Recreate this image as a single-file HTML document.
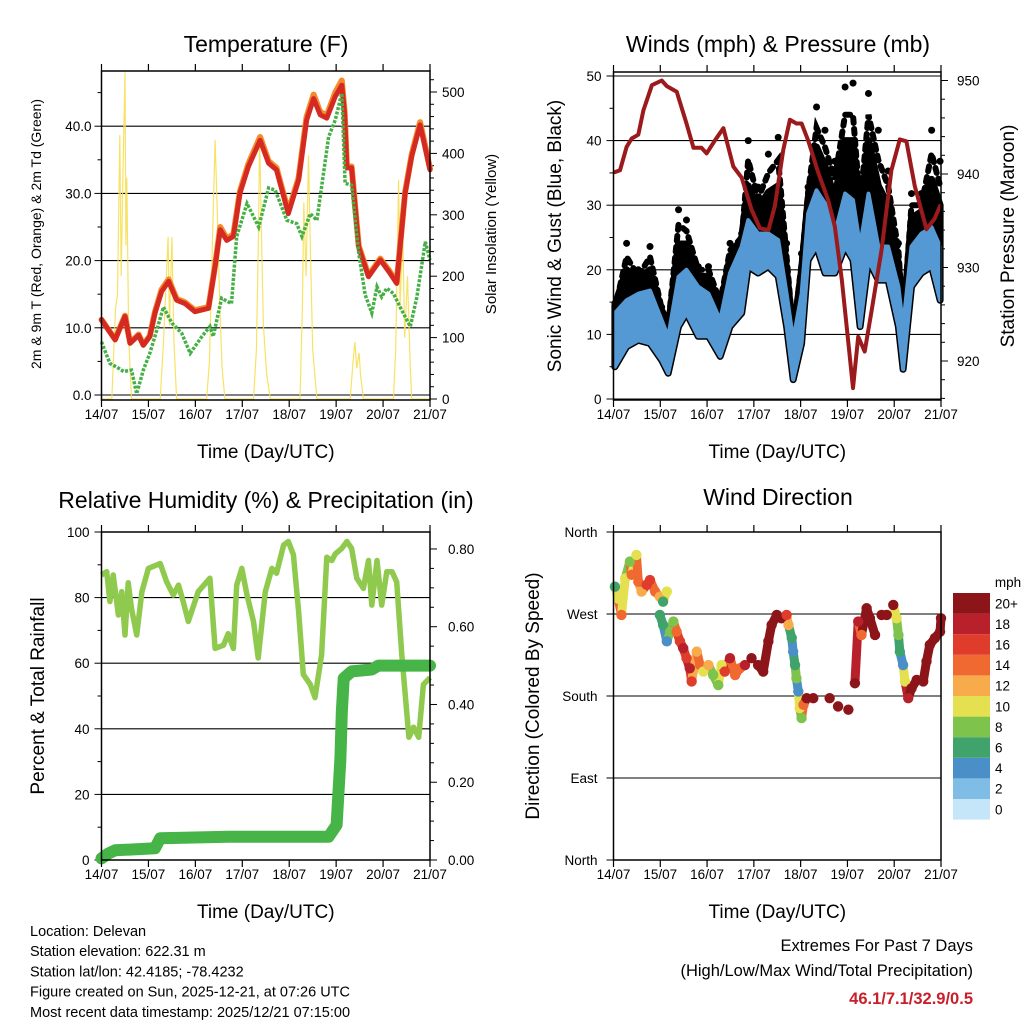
<!DOCTYPE html>
<html><head><meta charset="utf-8"><style>
html,body{margin:0;padding:0;background:#fff;}
svg{display:block;font-family:"Liberation Sans",Arial,sans-serif;}
</style></head><body>
<svg id="c" width="1024" height="1024" viewBox="0 0 1024 1024"></svg>
<script>
// ---------- DATA ----------
const tempDays=[0,0.29,0.5,0.61,0.79,0.89,1.03,1.14,1.28,1.43,1.6,1.78,1.99,2.28,2.42,2.53,2.67,2.81,2.95,3.13,3.38,3.56,3.73,3.98,4.2,4.37,4.52,4.66,4.8,4.98,5.12,5.18,5.23,5.33,5.48,5.69,5.94,6.12,6.29,6.47,6.61,6.79,7.0];
const tempRed=[11.2,8.2,11.7,7.7,8.9,7.4,8.7,12.2,15.4,16.9,14.1,13.6,12.4,12.9,19.1,24.6,23,23.6,30,34,37.9,34.5,33.5,27,32,40.9,44.1,41.7,41.2,44.4,46.1,41.9,33.8,33.8,22,17.6,20.1,18.4,16.6,30,35.5,40.2,33.5];
const tempOrange=[11.2,8.3,11.8,7.8,9,7.5,8.8,12.4,15.7,17.2,14.3,13.8,12.6,13.1,19.3,25,23.3,23.9,30.3,34.4,38.4,34.8,33.8,27.3,32.3,41.4,44.7,42.1,41.6,45,46.8,42.2,34,34,22.2,17.8,20.3,18.6,16.8,30.2,35.8,40.6,33.7];
const dewDays=[0,0.18,0.36,0.47,0.64,0.75,0.89,1.03,1.18,1.32,1.5,1.71,1.89,2.14,2.31,2.38,2.56,2.77,2.88,3.1,3.35,3.56,3.7,3.95,4.16,4.27,4.45,4.59,4.84,4.98,5.12,5.19,5.33,5.48,5.62,5.76,5.87,5.97,6.08,6.22,6.4,6.58,6.72,6.9,7.0];
const dewVals=[7.9,4.7,4,3.5,3.7,0.2,3.7,6.2,9.7,13.1,10.7,9.2,6.2,8.7,10.2,8.7,14.4,13.6,23.6,28.5,25,30.8,30.5,26,25.5,23.6,27,26,38.4,40.9,44.9,31.5,31.2,21.1,14.9,12.2,16.1,14.6,15.9,15.1,12.6,10.2,14.6,22.8,20.1];
const solarDays=[0,0.22,0.3,0.34,0.39,0.42,0.46,0.5,0.52,0.54,0.58,0.64,1.25,1.32,1.36,1.42,1.45,1.5,1.54,1.6,2.24,2.3,2.36,2.42,2.47,2.52,2.57,2.63,3.24,3.3,3.34,3.37,3.4,3.45,3.52,3.6,4.23,4.28,4.31,4.36,4.41,4.45,4.5,4.59,5.3,5.36,5.4,5.44,5.49,5.52,5.58,6.22,6.27,6.33,6.36,6.42,6.46,6.52,6.58,6.61,7];
const solarVals=[0,0,150,170,430,200,380,532,250,360,100,0,0,90,160,264,120,264,100,0,0,60,250,422,300,150,50,0,0,80,240,427,300,120,40,0,0,150,320,200,397,250,80,0,0,60,93,50,75,40,0,0,80,357,150,270,100,200,50,0,0];

const presDays=[0.03,0.14,0.28,0.39,0.53,0.64,0.82,1.03,1.14,1.35,1.56,1.71,1.88,1.99,2.17,2.35,2.56,2.74,2.95,3.13,3.31,3.45,3.63,3.77,3.91,4.02,4.16,4.38,4.59,4.73,4.88,5.02,5.12,5.23,5.37,5.52,5.73,5.94,6.12,6.26,6.44,6.69,6.86,6.98];
const presVals=[940.2,940.4,942.9,943.8,944.2,946.8,949.5,950,949.4,948.8,945.4,942.8,942.8,942.2,943.6,944.9,940.8,939.6,936.2,934.2,934,936.6,942.6,945.8,945.4,945.4,943.6,940.1,937.2,934.4,928.7,921.9,917.1,922.6,921,925.5,931.9,940.4,943.7,943.5,938.7,934.1,935.2,936.6];
const windDays=[0.03,0.28,0.53,0.78,1.03,1.17,1.39,1.56,1.81,2.03,2.28,2.49,2.74,2.88,3.09,3.31,3.52,3.7,3.84,4.02,4.16,4.34,4.52,4.73,4.95,5.12,5.27,5.45,5.66,5.87,6.09,6.19,6.37,6.58,6.8,6.98];
const windLow=[5,8.1,9.1,8.6,6,4,11.2,13.3,9.7,9.7,6.6,11.2,13.3,20.5,19.5,20.5,19,11.2,3,8.6,21.5,23.6,19.5,19.5,23.6,21.5,11.2,21.5,18.4,18.4,11.2,4.6,17.4,19.5,20.5,15.3];
const windHigh=[13.3,15.3,16.3,16.8,12.2,9.6,18.9,20,17.4,16.3,12.2,19.5,23.6,27.7,25.6,25.6,24.6,16.3,9.1,16.3,28.7,32.3,30.3,25.6,31.8,30.8,23.6,31.8,23.6,23.6,17.4,11.2,23.6,25.6,26.6,23.6];
const gustDense=[14.5,20,18.5,20,13.5,11,24,24,19,19,14,22,25,33,29.5,32,33,20,9.8,20,31,39,36,31,40,40,28,40,33,30,21,11.8,28,29,34,30];
const gustMid=[14,22,19,22,14,11.5,27,26,20,20,15,23,25,37,31,35,37,22,10,21,32,42,39,34,44,44,30,44,37,33,23,12,30,30,38,33];
const gustMax=[14.8,24.1,20,23.6,14.2,12.2,29.3,27.7,20.5,20.5,15.3,24.1,25.6,40,32.8,37.9,40.5,24.1,10.1,22.5,32.8,45.2,41.6,36.8,48.3,48.9,31.8,47.3,41.6,35.3,24.1,12.2,31.8,31.8,41.6,36.8];

const rhDays=[0,0.11,0.18,0.25,0.36,0.43,0.5,0.57,0.64,0.75,0.86,1.0,1.25,1.39,1.53,1.64,1.74,1.85,2.06,2.31,2.42,2.6,2.7,2.81,2.88,2.99,3.1,3.24,3.34,3.49,3.63,3.73,3.88,3.98,4.09,4.2,4.3,4.45,4.55,4.69,4.8,4.91,4.98,5.12,5.23,5.33,5.44,5.58,5.69,5.76,5.87,5.97,6.08,6.19,6.29,6.4,6.55,6.65,6.76,6.86,7.0];
const rhVals=[86.9,87.9,78.8,86.9,74.7,81.8,68.6,84.5,76.7,68.6,81.8,88.9,90.4,84.8,80.8,83.8,78.8,72.7,81.8,85.9,64.5,65.5,69,64.5,83.8,88.9,80.8,72.7,61.6,81.8,88.9,87.4,96,97.1,93.1,75.8,56.6,53.5,49.5,62.6,92.3,91.3,93.3,95,97.1,95,85.9,82.8,91.3,77.7,91.3,77.7,87.9,87.9,84.8,62.6,37.4,40.5,37.4,53.5,55.6];
const precipDays=[0,0.15,0.29,1.14,1.25,2.7,4.84,5.01,5.09,5.12,5.16,5.33,5.76,5.9,7.0];
const precipVals=[0.004,0.017,0.025,0.03,0.056,0.06,0.06,0.09,0.26,0.38,0.467,0.485,0.49,0.5,0.5];

const dirDays=[0.03,0.1,0.17,0.25,0.35,0.39,0.49,0.53,0.6,0.71,0.78,0.89,0.99,1.06,1.14,0.99,1.06,1.14,1.21,1.28,1.35,1.42,1.49,1.56,1.63,1.67,1.78,1.85,1.92,2.03,2.13,2.24,2.31,2.38,2.49,2.6,2.7,2.81,2.95,3.09,3.2,3.31,3.38,3.49,3.59,3.7,3.74,3.81,3.84,3.88,3.91,3.95,3.98,4.02,4.06,4.13,4.27,4.62,4.8,5.02,5.16,5.23,5.3,5.41,5.48,5.59,5.73,5.84,5.98,6.05,6.09,6.12,6.19,6.23,6.3,6.37,6.48,6.62,6.69,6.76,6.87,6.98,7.0];
const dirDeg=[300,287,269,309,327.5,313,334.8,305.5,294.6,302,307.3,294.6,289,283.5,294.6,269,258,240,250.6,261.7,250.6,240,232.4,221.5,210.4,196,228.7,214,206.8,214,203,192,214,206.8,221.5,203,210.4,214,221.5,214,206.8,240,258,269,265.3,269,258,243.6,228.7,214,199.4,185,166.7,155.8,170.3,177.6,177.6,177.6,168.6,165,194,261.7,247,276.3,265.3,247,269,269,280,265.3,247,228.7,214,196,177.6,188.4,197.6,196,218,236,243.6,250.6,265.3];
const dirSpeed=[6,10,14,10,8,14,10,14,12,16,16,14,12,6,10,6,6,4,8,8,14,16,18,16,18,16,12,14,10,12,8,8,10,16,18,14,14,18,20,20,20,20,20,20,20,16,12,6,4,6,8,4,10,8,14,20,20,20,20,20,20,18,14,20,20,20,20,20,20,10,8,6,4,10,18,20,20,20,20,20,20,20,20];

const dayLabels=["14/07","15/07","16/07","17/07","18/07","19/07","20/07","21/07"];
const tempTicks=["0.0","10.0","20.0","30.0","40.0"];
const solarTicks=[0,100,200,300,400,500];
const windTicks=[0,10,20,30,40,50];
const presTicks=[920,930,940,950];
const rhTicks=[0,20,40,60,80,100];
const prTicks=["0.00","0.20","0.40","0.60","0.80"];
const dirLabels=["North","East","South","West","North"];
const speedLabels=["0","2","4","6","8","10","12","14","16","18","20+"];
const speedColors=["#c4e6f8","#80bde6","#4b8fc8","#3fa36b","#7ec34b","#e5e04f","#f8ab4b","#f06931","#e03c2b","#b8212b","#8c1519"];

// ---------- RENDER ----------
const NS="http://www.w3.org/2000/svg";
const svg=document.getElementById('c');
function mk(tag,attrs,parent){const e=document.createElementNS(NS,tag);for(const k in attrs)e.setAttribute(k,attrs[k]);(parent||svg).appendChild(e);return e;}
function txt(s,x,y,size,anchor,parent,extra){const t=mk('text',Object.assign({x:x,y:y,'font-size':size,'text-anchor':anchor||'middle',fill:'#000'},extra||{}),parent);t.textContent=s;return t;}

const P={
 T:{x0:101.5,x1:430,y0:71,y1:400},
 W:{x0:613.5,x1:941,y0:72,y1:400},
 R:{x0:101.5,x1:430,y0:532,y1:860},
 D:{x0:613.5,x1:941,y0:532,y1:860}
};
const X=(p,d)=>p.x0+d/7*(p.x1-p.x0);
const yT=v=>395-6.72*v, yS=w=>399-0.614*w;
const yW=v=>399-6.46*v, yP=m=>361-9.35*(m-920);
const yR=v=>860-3.28*v, yPr=v=>860-388.8*v;
const yD=d=>860-d*328/360;

function pathOf(days,vals,p,yf){return days.map((d,i)=>(i?'L':'M')+X(p,d).toFixed(1)+' '+yf(vals[i]).toFixed(1)).join(' ');}
function bandOf(days,top,bot,p,yf){return pathOf(days,top,p,yf)+' '+days.slice().reverse().map((d,i,a)=>'L'+X(p,d).toFixed(1)+' '+yf(bot[a.length-1-i]).toFixed(1)).join(' ')+'Z';}

function frame(p,g){
  mk('rect',{x:p.x0,y:p.y0,width:p.x1-p.x0,height:p.y1-p.y0,fill:'none',stroke:'#000','stroke-width':1.5},g);
  for(let i=0;i<=7;i++){const x=X(p,i);
    mk('line',{x1:x,y1:p.y1,x2:x,y2:p.y1+7,stroke:'#000','stroke-width':1.2},g);
    mk('line',{x1:x,y1:p.y0,x2:x,y2:p.y0-7,stroke:'#000','stroke-width':1.2},g);
    const t=txt(dayLabels[i],x,p.y1+19,13.5,'middle',g);
    }
  const xt=txt('Time (Day/UTC)',(p.x0+p.x1)/2,p.y1+58,19,'middle',g);
  
}
function hgrid(p,y,g){mk('line',{x1:p.x0,y1:y,x2:p.x1,y2:y,stroke:'#000','stroke-width':1.1},g);}
function ytick(x,y,len,g){mk('line',{x1:x,y1:y,x2:x+len,y2:y,stroke:'#000','stroke-width':1},g);}
function vtitle(s,x,y,size,g,name){const t=txt(s,x,y,size,'middle',g,{transform:`rotate(-90 ${x} ${y})`});}
function title(s,x,y,g,name){const t=txt(s,x,y,23,'middle',g);}

// ---- Temperature ----
(function(){const p=P.T;const g=mk('g',{});
 title('Temperature (F)',266,52,g,'temperature-title');
 for(let v=0;v<=45;v+=5){ytick(p.x0,yT(v),-(v%10?4:7),g);}
 tempTicks.forEach((s,i)=>{hgrid(p,yT(i*10),g);txt(s,p.x0-10,yT(i*10)+5,13.5,'end',g);});
 for(let w=0;w<=520;w+=20){ytick(p.x1,yS(w),(w%100?4:7),g);}
 solarTicks.forEach(w=>txt(String(w),p.x1+12,yS(w)+5,13.5,'start',g));
 vtitle('2m & 9m T (Red, Orange) & 2m Td (Green)',41,234,14,g,'left-axis-title');
 vtitle('Solar Insolation (Yellow)',496,234,15,g,'right-axis-title');
 const s=mk('path',{d:pathOf(solarDays,solarVals,p,yS),fill:'none',stroke:'#f7df55','stroke-width':1.2,'stroke-opacity':0.9},g);
 
 const o=mk('path',{d:pathOf(tempDays,tempOrange,p,yT),fill:'none',stroke:'#f58a2c','stroke-width':6,'stroke-linejoin':'round','stroke-linecap':'round'},g);
 
 const r=mk('path',{d:pathOf(tempDays,tempRed,p,yT),fill:'none',stroke:'#d42a22','stroke-width':5,'stroke-linejoin':'round','stroke-linecap':'round'},g);
 
 const d=mk('path',{d:pathOf(dewDays,dewVals,p,yT),fill:'none',stroke:'#45b045','stroke-width':3.5,'stroke-dasharray':'3 1.5'},g);
 
 frame(p,g);
})();

// ---- Winds ----
(function(){const p=P.W;const g=mk('g',{});
 title('Winds (mph) & Pressure (mb)',778,52,g,'winds-title');
 for(let v=0;v<=50;v+=5){ytick(p.x0,yW(v),-(v%10?4:7),g);}
 windTicks.forEach(v=>{hgrid(p,yW(v),g);txt(String(v),p.x0-12,yW(v)+5,13.5,'end',g);});
 for(let m=916;m<=952;m+=2){if(yP(m)>p.y0&&yP(m)<p.y1)ytick(p.x1,yP(m),(m%10?4:7),g);}
 presTicks.forEach(m=>txt(String(m),p.x1+16,yP(m)+5,13.5,'start',g));
 vtitle('Sonic Wind & Gust (Blue, Black)',561,236,19,g,'left-axis-title');
 vtitle('Station Pressure (Maroon)',1014,236,19,g,'right-axis-title');
 const gb=mk('path',{d:bandOf(windDays,gustDense,windLow,p,yW),fill:'#000',stroke:'#000','stroke-width':7,'stroke-linejoin':'round'},g);
 
 const gm=mk('path',{d:pathOf(windDays,gustMid,p,yW),fill:'none',stroke:'#000','stroke-width':6,'stroke-dasharray':'5 6','stroke-linecap':'round'},g);
 
 windDays.forEach((d,i)=>{const c=mk('circle',{cx:X(p,d),cy:yW(gustMax[i]),r:3.5,fill:'#000'},g);
   });
 const wbe=mk('path',{d:bandOf(windDays,windHigh,windLow,p,yW),fill:'#5499d3',stroke:'#5499d3','stroke-width':4,'stroke-linejoin':'round'},g);
 
 const pr=mk('path',{d:pathOf(presDays,presVals,p,yP),fill:'none',stroke:'#9b1a1c','stroke-width':4,'stroke-linejoin':'round','stroke-linecap':'round'},g);
 
 frame(p,g);
})();

// ---- RH & Precip ----
(function(){const p=P.R;const g=mk('g',{});
 title('Relative Humidity (%) & Precipitation (in)',266,508,g,'humidity-title');
 for(let v=0;v<=100;v+=10){ytick(p.x0,yR(v),-(v%20?4:7),g);}
 rhTicks.forEach(v=>{if(v>0&&v<100)hgrid(p,yR(v),g);txt(String(v),p.x0-12,yR(v)+5,13.5,'end',g);});
 for(let k=0;k<=16;k++){ytick(p.x1,yPr(k*0.05),(k%4?4:7),g);}
 prTicks.forEach((s,i)=>txt(s,p.x1+18,yPr(i*0.2)+5,13.5,'start',g));
 vtitle('Percent & Total Rainfall',44,696,19,g,'left-axis-title');
 const rh=mk('path',{d:pathOf(rhDays,rhVals,p,yR),fill:'none',stroke:'#8fca4e','stroke-width':5.5,'stroke-linejoin':'round'},g);
 
 const pc=mk('path',{d:pathOf(precipDays,precipVals,p,yPr),fill:'none',stroke:'#46b446','stroke-width':12,'stroke-linejoin':'round','stroke-linecap':'round'},g);
 
 frame(p,g);
})();

// ---- Wind direction ----
(function(){const p=P.D;const g=mk('g',{});
 title('Wind Direction',778,505,g,'wind-direction-title');
 dirLabels.forEach((s,i)=>{const y=yD(i*90);if(i>0&&i<4)hgrid(p,y,g);ytick(p.x0,y,-7,g);txt(s,p.x0-16,y+5,13.5,'end',g);});
 vtitle('Direction (Colored By Speed)',539,696,19,g,'left-axis-title');
 const col=i=>speedColors[Math.min(10,Math.max(0,Math.round(dirSpeed[i]/2)))];
 for(let i=1;i<dirDays.length;i++){const dt=dirDays[i]-dirDays[i-1];
   if(dt>0&&dt<0.12){const l=mk('line',{x1:X(p,dirDays[i-1]),y1:yD(dirDeg[i-1]),x2:X(p,dirDays[i]),y2:yD(dirDeg[i]),stroke:col(i),'stroke-width':9,'stroke-linecap':'round'},g);
   }}
 dirDays.forEach((d,i)=>{
   const c=mk('circle',{cx:X(p,d),cy:yD(dirDeg[i]),r:5.2,fill:col(i)},g);
   });
 frame(p,g);
 const lg=mk('g',{},g);
 txt('mph',1008,587,13.5,'middle',lg);
 const bh=20.6,top=593;
 speedLabels.forEach((s,i)=>{const j=10-i;const y=top+j*bh;
   const r=mk('rect',{x:953,y:y,width:37,height:bh,fill:speedColors[i]},lg);
   
   txt(s,995,y+bh/2+5,13.5,'start',lg);});
})();

// ---- footer text ----
const info=["Location: Delevan","Station elevation: 622.31 m","Station lat/lon: 42.4185; -78.4232","Figure created on Sun, 2025-12-21, at 07:26 UTC","Most recent data timestamp: 2025/12/21 07:15:00"];
info.forEach((s,i)=>{const t=txt(s,30,936+i*20.2,14.5,'start');});
let e1=txt('Extremes For Past 7 Days',973,951,16.5,'end');
let e2=txt('(High/Low/Max Wind/Total Precipitation)',973,976,16.5,'end');
let e3=txt('46.1/7.1/32.9/0.5',973,1004,16.5,'end',null,{'font-weight':'bold',fill:'#c8202a'});
</script>
</body></html>
